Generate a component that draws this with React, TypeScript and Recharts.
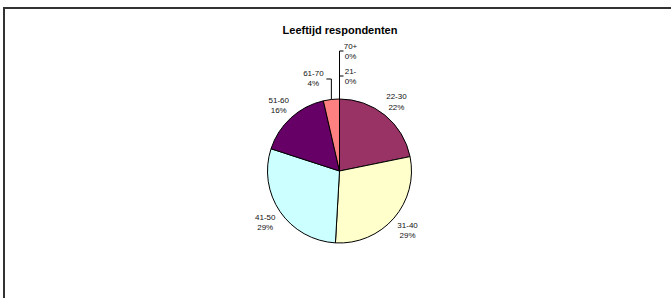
import React from 'react';
import { PieChart, Pie, Cell } from 'recharts';

const categories = ['21-', '22-30', '31-40', '41-50', '51-60', '61-70', '70+'];
const shares = [0, 21.8, 29.1, 29.1, 16.4, 3.6, 0];
const colors = ['#9999FF', '#993366', '#FFFFCC', '#CCFFFF', '#660066', '#FF8080', '#0066CC'];
const title = 'Leeftijd respondenten';

const data = categories.map((name, i) => ({ name, value: shares[i] }));

const RADIAN = Math.PI / 180;
const FONT = 'Arial, "Liberation Sans", Helvetica, sans-serif';
const TXT = '#111';

const renderLabel = (props: any) => {
  const { cx, cy, midAngle, outerRadius, index, percent, name } = props;
  const pct = `${Math.round(percent * 100)}%`;
  const textProps = {
    fontFamily: FONT,
    fontSize: 8,
    fill: TXT,
    stroke: 'none',
    textAnchor: 'middle' as const,
  };
  if (percent === 0) {
    // zero slices stacked above the pie top with a bracket leader
    const zeroOrder = index === categories.length - 1 ? 1 : 0;
    const firstY = cy - outerRadius - 28 - 25 * zeroOrder;
    const tickY = firstY + 5;
    const tx = cx + 11;
    return (
      <g key={`lbl-${index}`}>
        <path
          d={`M${cx},${cy - outerRadius} L${cx},${tickY} L${cx + 4},${tickY}`}
          stroke="#000"
          strokeWidth={1}
          fill="none"
        />
        <text x={tx} y={firstY + 3} {...textProps}>{name}</text>
        <text x={tx} y={firstY + 13} {...textProps}>{pct}</text>
      </g>
    );
  }
  if (percent < 0.05) {
    const sx = cx + outerRadius * Math.cos(-midAngle * RADIAN);
    const sy = cy + outerRadius * Math.sin(-midAngle * RADIAN);
    const elbowY = cy - outerRadius - 20;
    const endX = sx - 5;
    const tx = endX - 13;
    return (
      <g key={`lbl-${index}`}>
        <path
          d={`M${sx},${sy} L${sx},${elbowY} L${endX},${elbowY}`}
          stroke="#000"
          strokeWidth={1}
          fill="none"
        />
        <text x={tx} y={elbowY - 3} {...textProps}>{name}</text>
        <text x={tx} y={elbowY + 7} {...textProps}>{pct}</text>
      </g>
    );
  }
  const r = outerRadius + 18;
  const x = cx + r * Math.cos(-midAngle * RADIAN);
  const y = cy + r * Math.sin(-midAngle * RADIAN);
  return (
    <g key={`lbl-${index}`}>
      <text x={x} y={y - 2} {...textProps}>{name}</text>
      <text x={x} y={y + 8.5} {...textProps}>{pct}</text>
    </g>
  );
};

export default function App() {
  return (
    <div style={{ position: 'absolute', left: 0, top: 0, width: 671, height: 298, background: '#fff', overflow: 'hidden' }}>
      <div
        style={{
          position: 'absolute',
          left: 3,
          top: 7,
          width: 700,
          height: 320,
          borderTop: '2px solid #333',
          borderLeft: '2px solid #333',
        }}
      />
      <div
        style={{
          position: 'absolute',
          left: 0,
          top: 23,
          width: 680,
          textAlign: 'center',
          fontFamily: FONT,
          fontWeight: 'bold',
          fontSize: 11,
          lineHeight: '14px',
          color: '#000',
        }}
      >
        {title}
      </div>
      <div style={{ position: 'absolute', left: 0, top: 0 }}>
        <PieChart width={671} height={298} margin={{ top: 0, right: 0, bottom: 0, left: 0 }}>
          <Pie
            data={data}
            dataKey="value"
            nameKey="name"
            cx={339.5}
            cy={171}
            outerRadius={72}
            startAngle={90}
            endAngle={-270}
            stroke="#000"
            strokeWidth={1}
            label={renderLabel}
            labelLine={false}
            isAnimationActive={false}
          >
            {data.map((d, i) => (
              <Cell key={d.name} fill={colors[i]} />
            ))}
          </Pie>
        </PieChart>
      </div>
    </div>
  );
}
